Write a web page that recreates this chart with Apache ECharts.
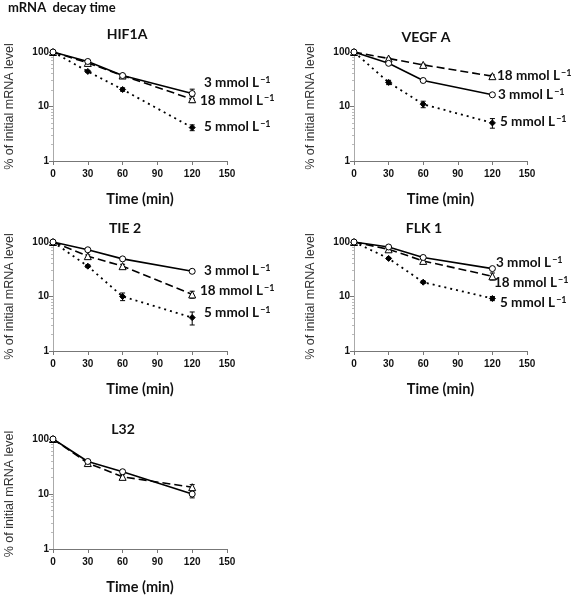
<!DOCTYPE html>
<html><head><meta charset="utf-8">
<script src="https://cdn.jsdelivr.net/npm/echarts@6/dist/echarts.min.js"></script>
<style>html,body{margin:0;padding:0;background:#fff}#c{width:572px;height:596px}</style>
</head><body><div id="c"></div>
<script>
// ---- data ----
const times = [0, 30, 60, 120];
const xTicks = [0, 30, 60, 90, 120, 150];
const yTicks = [1, 10, 100];
const panelTitles = ['HIF1A', 'VEGF A', 'TIE 2', 'FLK 1', 'L32'];
const concLabels = ['3 mmol L', '18 mmol L', '5 mmol L'];
const concSup = '−1';

const hif1a_3  = [100, 67, 37, 17.3];
const hif1a_18 = [100, 63, 37, 13.6];
const hif1a_5  = [100, 44, 20.5, 4.1];
const hif1a_3_err  = [0, 3, 2, 3.5];
const hif1a_18_err = [0, 2, 2, 1.8];
const hif1a_5_err  = [0, 2, 1.5, 0.5];

const vegfa_3  = [100, 62, 30, 16.4];
const vegfa_18 = [100, 76, 58, 36];
const vegfa_5  = [100, 27.7, 11, 5.0];
const vegfa_3_err  = [0, 2, 1, 1];
const vegfa_18_err = [0, 2, 2, 2];
const vegfa_5_err  = [0, 2.5, 1.5, 1.0];

const tie2_3  = [100, 72, 49, 29];
const tie2_18 = [100, 55, 36, 10.9];
const tie2_5  = [100, 36, 10, 4.1];
const tie2_3_err  = [0, 2, 2, 2];
const tie2_18_err = [0, 3, 3, 1.6];
const tie2_5_err  = [0, 2, 1.6, 1.1];

const flk1_3  = [100, 81, 52, 32.5];
const flk1_18 = [100, 73.5, 45, 23.5];
const flk1_5  = [100, 50, 18.3, 9.2];
const flk1_3_err  = [0, 3, 3, 2];
const flk1_18_err = [0, 3, 3, 3.5];
const flk1_5_err  = [0, 2, 1, 0.8];

const l32_3  = [100, 39, 25.4, 10];
const l32_18 = [100, 36.5, 20.5, 13.3];
const l32_3_err  = [0, 3, 2, 1.5];
const l32_18_err = [0, 4, 2, 1.5];

const panels = [
  [[hif1a_3, hif1a_3_err], [hif1a_18, hif1a_18_err], [hif1a_5, hif1a_5_err]],
  [[vegfa_3, vegfa_3_err], [vegfa_18, vegfa_18_err], [vegfa_5, vegfa_5_err]],
  [[tie2_3, tie2_3_err], [tie2_18, tie2_18_err], [tie2_5, tie2_5_err]],
  [[flk1_3, flk1_3_err], [flk1_18, flk1_18_err], [flk1_5, flk1_5_err]],
  [[l32_3, l32_3_err], [l32_18, l32_18_err]]
];

// ---- layout ----
const grids = [
  {left: 53, top: 52, width: 174, height: 109},
  {left: 354, top: 52, width: 173, height: 109},
  {left: 53, top: 242, width: 174, height: 109},
  {left: 354, top: 242, width: 173, height: 109},
  {left: 53, top: 439, width: 174, height: 115}
];
const titlePos = [[127, 27], [426, 30], [125, 221], [424, 221], [123, 422]];
const labelPos = [
  [[204, 83], [200, 101], [204, 127]],
  [[498, 95], [497, 76], [500, 122]],
  [[204, 271], [200, 291], [204, 313]],
  [[496, 263], [494, 283], [500, 303]]
];

const styles = [
  {line: 'solid', width: 1.6, symbol: 'circle', size: 6, fill: '#fff'},
  {line: [8, 4], width: 1.6, symbol: 'triangle', size: 7, fill: '#fff'},
  {line: [2, 4], width: 1.8, symbol: 'diamond', size: 6, fill: '#000'}
];

const FONT = 'Lato, "Liberation Sans", sans-serif';
const ARIAL = '"Liberation Sans", Arial, sans-serif';
const xAxes = [], yAxes = [], series = [], titles = [], graphics = [];

grids.forEach((g, i) => {
  xAxes.push({
    gridIndex: i, type: 'value', min: 0, max: 150, interval: 30,
    name: 'Time (min)', nameLocation: 'middle', nameGap: 31,
    nameTextStyle: {fontFamily: FONT, fontWeight: 'bold', fontSize: 14.5, color: '#111'},
    axisLine: {show: true, lineStyle: {color: '#777', width: 1}},
    axisTick: {show: true, length: 4, lineStyle: {color: '#777'}},
    axisLabel: {fontFamily: ARIAL, fontWeight: 'bold', fontSize: 10, color: '#111', margin: 8},
    splitLine: {show: false}
  });
  yAxes.push({
    gridIndex: i, type: 'log', logBase: 10, min: 1, max: 100,
    name: '% of initial mRNA level', nameLocation: 'middle', nameGap: 37,
    nameTextStyle: {fontFamily: ARIAL, fontSize: 12.5, color: '#333'},
    axisLine: {show: true, lineStyle: {color: '#aaa', width: 1}},
    axisTick: {show: true, length: 4, lineStyle: {color: '#777'}},
    minorTick: {show: true, splitNumber: 9, length: 2, lineStyle: {color: '#bbb'}},
    axisLabel: {fontFamily: ARIAL, fontWeight: 'bold', fontSize: 10, color: '#111', margin: 4},
    splitLine: {show: false}
  });
  titles.push({
    text: panelTitles[i], left: titlePos[i][0], top: titlePos[i][1], textAlign: 'center', padding: 0,
    textStyle: {fontFamily: FONT, fontWeight: 'bold', fontSize: 14, color: '#111'}
  });
  panels[i].forEach((pair, k) => {
    const st = styles[k];
    const vals = pair[0], errs = pair[1];
    series.push({
      type: 'line', xAxisIndex: i, yAxisIndex: i,
      data: times.map((t, j) => [t, vals[j]]),
      symbol: st.symbol, symbolSize: st.size, showSymbol: true,
      lineStyle: {color: '#000', width: st.width, type: st.line},
      itemStyle: {color: st.fill, borderColor: '#000', borderWidth: 1},
      z: 3 - k, animation: false
    });
    series.push({
      type: 'custom', xAxisIndex: i, yAxisIndex: i,
      data: times.map((t, j) => [t, vals[j], errs[j]]),
      renderItem: function (params, api) {
        const x = api.value(0), v = api.value(1), e = api.value(2);
        if (!e) return null;
        const lo = api.coord([x, Math.max(v - e, 1)]);
        const hi = api.coord([x, Math.min(v + e, 100)]);
        const w = 2.5;
        return {type: 'group', children: [
          {type: 'line', shape: {x1: lo[0], y1: lo[1], x2: hi[0], y2: hi[1]}, style: {stroke: '#000', lineWidth: 1}},
          {type: 'line', shape: {x1: lo[0] - w, y1: lo[1], x2: lo[0] + w, y2: lo[1]}, style: {stroke: '#000', lineWidth: 1}},
          {type: 'line', shape: {x1: hi[0] - w, y1: hi[1], x2: hi[0] + w, y2: hi[1]}, style: {stroke: '#000', lineWidth: 1}}
        ]};
      },
      z: 1, animation: false, silent: true
    });
  });
  if (labelPos[i]) {
    labelPos[i].forEach((p, k) => {
      graphics.push({
        type: 'text', x: p[0], y: p[1],
        style: {
          text: concLabels[k] + '{s|' + concSup + '}',
          fill: '#111', fontFamily: FONT, fontWeight: 'bold', fontSize: 13.5,
          verticalAlign: 'middle', align: 'left',
          rich: {s: {fontFamily: FONT, fontWeight: 'bold', fontSize: 9, verticalAlign: 'top', fill: '#111', padding: [0, 0, 0, 1]}}
        }
      });
    });
  }
});

titles.unshift({
  text: 'mRNA  decay time', left: 8, top: 1, padding: 0,
  textStyle: {fontFamily: FONT, fontWeight: 'bold', fontSize: 13, color: '#111'}
});

const chart = echarts.init(document.getElementById('c'), null, {renderer: 'canvas'});
chart.setOption({
  animation: false,
  backgroundColor: '#fff',
  title: titles,
  grid: grids,
  xAxis: xAxes,
  yAxis: yAxes,
  series: series,
  graphic: graphics
});
</script>
</body></html>
